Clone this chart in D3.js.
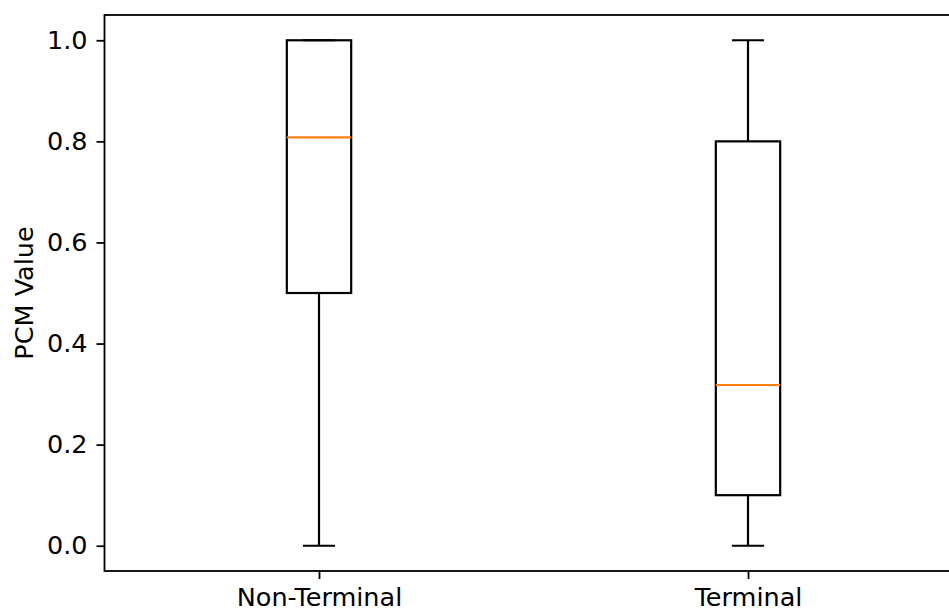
<!DOCTYPE html>
<html>
<head>
<meta charset="utf-8">
<script src="https://cdn.jsdelivr.net/npm/d3@7"></script>
<style>
  body { margin: 0; background: #fff; }
  text { font-family: "DejaVu Sans", sans-serif; }
</style>
</head>
<body>
<div id="chart"></div>
<script>
const width = 949;
const height = 611;

// Box plot data
const categories = ["Non-Terminal", "Terminal"];
const whiskerLow = [0.0, 0.0];
const q1 = [0.5, 0.1];
const median = [0.808, 0.318];
const q3 = [1.0, 0.8];
const whiskerHigh = [1.0, 1.0];
const yTicks = [0.0, 0.2, 0.4, 0.6, 0.8, 1.0];

const margin = { left: 104.5, top: 15, right: 962.5, bottom: 571 };
const fontSize = 25.5;

const svg = d3.select("#chart").append("svg")
  .attr("width", width)
  .attr("height", height);

// positions 1..n like matplotlib
const x = d3.scaleLinear().domain([0.5, categories.length + 0.5]).range([margin.left, margin.right]);
const y = d3.scaleLinear().domain([-0.05, 1.05]).range([margin.bottom, margin.top]);

const boxW = x(1.15) - x(1);
const capW = boxW / 2;

const boxes = categories.map((c, i) => ({
  name: c, pos: i + 1,
  lo: whiskerLow[i], q1: q1[i], med: median[i], q3: q3[i], hi: whiskerHigh[i]
}));

const g = svg.append("g");

// whiskers
g.selectAll(".whisker-lo").data(boxes).join("line")
  .attr("x1", d => x(d.pos)).attr("x2", d => x(d.pos))
  .attr("y1", d => y(d.q1)).attr("y2", d => y(d.lo))
  .attr("stroke", "#000").attr("stroke-width", 2.2);
g.selectAll(".whisker-hi").data(boxes).join("line")
  .attr("x1", d => x(d.pos)).attr("x2", d => x(d.pos))
  .attr("y1", d => y(d.q3)).attr("y2", d => y(d.hi))
  .attr("stroke", "#000").attr("stroke-width", 2.2);

// caps
["lo", "hi"].forEach(k => {
  g.selectAll(".cap-" + k).data(boxes).join("line")
    .attr("x1", d => x(d.pos) - capW / 2).attr("x2", d => x(d.pos) + capW / 2)
    .attr("y1", d => y(d[k])).attr("y2", d => y(d[k]))
    .attr("stroke", "#000").attr("stroke-width", 2.2);
});

// boxes
g.selectAll(".box").data(boxes).join("rect")
  .attr("x", d => x(d.pos) - boxW / 2)
  .attr("width", boxW)
  .attr("y", d => y(d.q3))
  .attr("height", d => y(d.q1) - y(d.q3))
  .attr("fill", "none")
  .attr("stroke", "#000").attr("stroke-width", 2.2);

// medians
g.selectAll(".median").data(boxes).join("line")
  .attr("x1", d => x(d.pos) - boxW / 2).attr("x2", d => x(d.pos) + boxW / 2)
  .attr("y1", d => y(d.med)).attr("y2", d => y(d.med))
  .attr("stroke", "#ff7f0e").attr("stroke-width", 2.2);

// axes
const xAxis = svg.append("g")
  .attr("transform", `translate(0,${margin.bottom})`)
  .call(d3.axisBottom(x).tickValues(boxes.map(d => d.pos))
    .tickFormat((d, i) => categories[i]).tickSize(8).tickPadding(9).tickSizeOuter(0));

const yAxis = svg.append("g")
  .attr("transform", `translate(${margin.left},0)`)
  .call(d3.axisLeft(y).tickValues(yTicks).tickFormat(d3.format(".1f"))
    .tickSize(8).tickPadding(9).tickSizeOuter(0));

[xAxis, yAxis].forEach(a => {
  a.select(".domain").remove();
  a.selectAll(".tick line").attr("stroke", "#000").attr("stroke-width", 1.8);
  a.selectAll(".tick text").attr("font-size", fontSize).attr("fill", "#000")
    .attr("font-family", "DejaVu Sans, sans-serif");
});

// frame
svg.append("rect")
  .attr("x", margin.left).attr("y", margin.top)
  .attr("width", margin.right - margin.left)
  .attr("height", margin.bottom - margin.top)
  .attr("fill", "none").attr("stroke", "#000").attr("stroke-width", 1.8);

// y label
svg.append("text")
  .attr("transform", `translate(33,${(margin.top + margin.bottom) / 2}) rotate(-90)`)
  .attr("text-anchor", "middle")
  .attr("font-size", fontSize)
  .text("PCM Value");
</script>
</body>
</html>
